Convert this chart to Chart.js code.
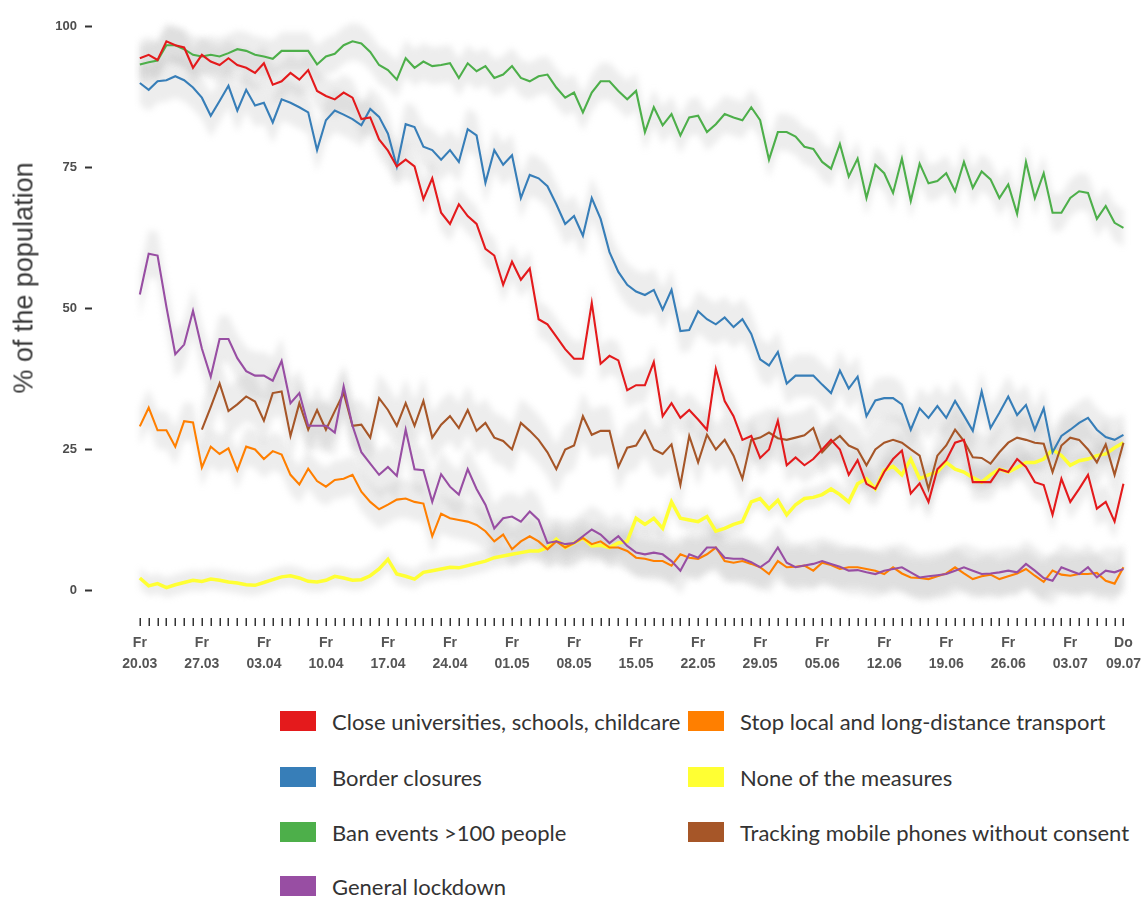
<!DOCTYPE html>
<html>
<head>
<meta charset="utf-8">
<script src="https://cdn.jsdelivr.net/npm/chart.js@4.4.1/dist/chart.umd.min.js"></script>
<style>
  html, body { margin: 0; padding: 0; background: #fff; overflow: hidden; }
  #wrap { position: relative; width: 1147px; height: 902px; }
  #c { position: absolute; left: 0; top: 0; }
  #ytitle {
    position: absolute; left: 24px; top: 278px;
    transform: translate(-50%, -50%) rotate(-90deg);
    font-family: "Liberation Sans", Arial, sans-serif; font-size: 27px;
    color: #3a3a3a; white-space: nowrap;
  }
  .lg { position: absolute; display: flex; align-items: center; height: 30px;
        font-family: Lato, "Open Sans", sans-serif; font-size: 22px; color: #333; white-space: nowrap; }
  .lg .sw { width: 36px; height: 20px; margin-right: 16px; flex: none; }
</style>
</head>
<body>
<div id="wrap">
  <canvas id="c" width="1147" height="690"></canvas>
  <div id="ytitle">% of the population</div>
  <div id="legend"></div>
</div>
<script>
// Daily survey, 20.03 – 09.07 (112 days)
const nDays = 112;

// x-axis tick labels (one every Friday, plus the last day)
const tickDays = [0, 7, 14, 21, 28, 35, 42, 49, 56, 63, 70, 77, 84, 91, 98, 105, 111];
const tickLabels = [
  ['Fr', '20.03'], ['Fr', '27.03'], ['Fr', '03.04'], ['Fr', '10.04'], ['Fr', '17.04'],
  ['Fr', '24.04'], ['Fr', '01.05'], ['Fr', '08.05'], ['Fr', '15.05'], ['Fr', '22.05'],
  ['Fr', '29.05'], ['Fr', '05.06'], ['Fr', '12.06'], ['Fr', '19.06'], ['Fr', '26.06'],
  ['Fr', '03.07'], ['Do', '09.07']
];
const yTicks = [0, 25, 50, 75, 100];

// Share of respondents supporting each measure (%)
const closeSchools = [
  94.4, 95.0, 94.1, 97.4, 96.7, 96.3, 92.7, 95.0, 93.8, 93.2, 94.4, 93.2, 92.7, 91.8, 93.5, 89.7,
  90.3, 91.8, 90.6, 92.3, 88.6, 87.7, 87.1, 88.3, 87.4, 83.6, 83.9, 80.0, 78.0, 75.2, 76.4, 75.2,
  69.4, 73.1, 67.0, 65.0, 68.5, 66.4, 65.0, 60.6, 59.4, 54.2, 58.3, 55.1, 57.1, 48.1, 47.2, 45.0,
  42.8, 41.1, 41.1, 51.0, 40.2, 41.6, 40.8, 35.5, 36.4, 36.4, 40.5, 30.9, 33.2, 30.6, 32.0, 30.3,
  28.5, 39.3, 33.6, 30.9, 26.7, 27.4, 23.5, 25.0, 30.1, 22.2, 23.6, 22.2, 23.3, 25.0, 26.7, 25.0,
  20.5, 23.1, 18.9, 18.0, 21.0, 23.3, 24.8, 17.2, 19.0, 15.7, 21.5, 23.1, 26.2, 26.7, 19.2, 19.2,
  19.2, 21.5, 21.0, 23.3, 21.9, 19.2, 18.7, 13.4, 19.8, 15.7, 18.0, 20.5, 14.5, 15.7, 12.2, 18.9
];
const borderClosures = [
  90.0, 88.8, 90.3, 90.5, 91.2, 90.5, 89.2, 87.4, 84.2, 86.8, 89.5, 85.1, 88.8, 86.0, 86.5, 83.0,
  87.1, 86.5, 85.7, 84.8, 78.1, 83.4, 85.1, 84.4, 83.6, 82.5, 85.4, 84.0, 81.0, 75.2, 82.7, 82.2,
  78.7, 78.1, 76.4, 78.1, 76.0, 81.8, 80.7, 72.3, 78.1, 75.5, 77.2, 69.6, 73.7, 73.1, 71.7, 68.5,
  65.0, 66.4, 62.9, 69.6, 65.9, 60.0, 56.5, 54.2, 53.0, 52.4, 53.3, 49.8, 53.3, 46.0, 46.2, 49.5,
  48.1, 47.2, 48.4, 46.7, 48.1, 45.5, 41.0, 39.9, 42.3, 36.7, 38.1, 38.1, 38.1, 36.5, 35.0, 39.0,
  35.8, 37.9, 30.9, 33.7, 34.1, 34.1, 33.0, 28.5, 32.3, 30.6, 32.7, 30.6, 33.6, 31.0, 28.3, 35.3,
  28.8, 31.5, 34.4, 31.1, 32.9, 28.5, 32.3, 24.5, 27.4, 28.5, 29.7, 30.6, 28.5, 27.2, 26.7, 27.6
];
const banEvents = [
  93.3, 93.7, 94.0, 96.7, 96.7, 96.0, 95.0, 94.7, 95.0, 94.7, 95.3, 96.0, 95.7, 95.0, 94.7, 94.3,
  95.7, 95.7, 95.7, 95.7, 93.3, 94.7, 95.2, 96.7, 97.4, 97.0, 95.5, 93.2, 92.3, 90.6, 94.4, 92.7,
  93.8, 93.0, 93.2, 93.5, 90.9, 93.5, 92.1, 93.0, 90.9, 91.5, 93.0, 90.9, 90.3, 91.2, 91.5, 89.2,
  87.4, 88.3, 84.8, 88.3, 90.3, 90.3, 88.6, 87.1, 88.6, 81.3, 85.7, 82.5, 84.5, 80.7, 83.9, 84.2,
  81.3, 82.7, 84.5, 83.9, 83.4, 85.7, 83.4, 76.4, 81.3, 81.3, 80.5, 78.7, 78.3, 76.0, 74.8, 79.2,
  73.4, 76.6, 69.6, 75.5, 74.0, 70.5, 76.6, 69.1, 75.7, 72.2, 72.6, 74.0, 70.8, 76.0, 71.4, 74.3,
  72.9, 69.6, 72.0, 66.8, 76.0, 69.6, 74.0, 67.0, 67.0, 69.6, 70.8, 70.5, 65.9, 68.2, 65.2, 64.3
];
const generalLockdown = [
  52.5, 59.7, 59.4, 50.3, 41.9, 43.6, 49.6, 42.9, 37.9, 44.6, 44.6, 41.2, 38.9, 38.1, 38.1, 37.2,
  40.7, 33.2, 35.0, 29.2, 29.2, 29.2, 28.0, 36.2, 29.2, 24.5, 22.5, 20.5, 21.9, 20.3, 28.5, 21.5,
  21.3, 15.7, 20.6, 18.4, 17.0, 21.5, 18.0, 15.2, 11.0, 12.8, 13.1, 12.2, 14.0, 12.5, 8.4, 8.7,
  8.2, 8.4, 9.6, 10.8, 9.9, 8.4, 9.6, 7.9, 6.7, 6.4, 6.7, 6.4, 5.2, 3.5, 6.4, 5.8,
  7.6, 7.6, 5.8, 5.6, 5.6, 5.0, 4.1, 5.2, 7.6, 4.9, 4.1, 4.4, 4.7, 5.2, 4.7, 4.2,
  3.5, 3.6, 3.2, 2.9, 3.5, 3.8, 4.1, 3.2, 2.3, 2.5, 2.7, 2.9, 3.5, 4.1, 3.5, 2.9,
  3.0, 3.2, 3.5, 3.2, 4.7, 3.5, 2.2, 1.7, 4.1, 3.5, 2.9, 4.1, 2.3, 3.5, 3.2, 3.8
];
const stopTransport = [
  29.1, 32.4, 28.4, 28.4, 25.5, 30.0, 29.8, 21.8, 25.5, 24.2, 25.2, 21.3, 25.5, 25.0, 23.3, 24.7,
  24.1, 20.5, 18.8, 21.6, 19.4, 18.4, 19.6, 19.8, 20.5, 17.5, 15.7, 14.4, 15.2, 16.1, 16.3, 15.7,
  15.4, 9.6, 13.6, 12.8, 12.5, 12.2, 11.6, 10.5, 8.7, 9.9, 7.3, 8.7, 9.6, 8.7, 7.3, 8.7,
  7.6, 8.4, 9.3, 8.2, 8.7, 7.6, 7.6, 7.0, 5.8, 5.6, 5.2, 5.2, 4.4, 6.4, 5.8, 5.6,
  6.4, 7.6, 5.2, 4.9, 5.2, 4.7, 4.1, 2.9, 5.2, 4.1, 4.2, 4.4, 3.5, 4.9, 4.5, 3.8,
  4.1, 4.1, 3.8, 3.5, 2.9, 4.1, 3.0, 2.3, 2.2, 2.0, 2.5, 3.0, 4.1, 3.0, 2.0, 2.5,
  2.8, 2.0, 2.5, 3.0, 3.8, 2.6, 1.5, 3.5, 2.8, 2.6, 2.9, 2.9, 3.1, 1.7, 1.2, 4.1
];
const noneOfThese = [
  2.2, 0.8, 1.2, 0.5, 1.0, 1.4, 1.8, 1.6, 2.0, 1.8, 1.5, 1.3, 1.0, 0.9, 1.4, 1.9,
  2.4, 2.6, 2.2, 1.6, 1.5, 1.8, 2.5, 2.2, 1.8, 1.9, 2.6, 3.8, 5.5, 2.9, 2.5, 2.0,
  3.2, 3.5, 3.8, 4.1, 4.0, 4.4, 4.8, 5.2, 5.8, 6.1, 6.4, 6.7, 7.0, 7.0, 7.6, 9.1,
  7.6, 8.4, 9.3, 7.9, 8.0, 7.6, 8.4, 8.7, 12.8, 11.7, 12.8, 11.0, 15.7, 12.8, 12.5, 12.2,
  13.1, 10.5, 11.0, 11.7, 12.2, 15.7, 16.3, 14.5, 16.0, 13.4, 15.2, 16.3, 16.5, 17.0, 18.0, 17.0,
  15.7, 18.9, 19.8, 18.0, 21.3, 22.0, 20.5, 23.3, 19.8, 20.5, 21.0, 22.7, 21.5, 21.0, 20.0, 19.2,
  20.5, 21.5, 21.0, 21.8, 22.7, 22.7, 23.3, 25.0, 23.9, 22.2, 23.0, 23.3, 23.9, 24.2, 25.3, 26.2
];
const trackingPhones = [
  null, null, null, null, null, null, null, 28.5, 32.5, 36.7, 31.8, 33.0, 34.4, 33.5, 30.1, 35.0,
  35.3, 27.4, 33.2, 28.5, 32.0, 28.5, 31.8, 35.0, 29.2, 29.4, 27.1, 34.1, 32.0, 29.2, 33.2, 29.2,
  33.6, 27.1, 29.4, 30.9, 28.8, 32.0, 28.3, 29.7, 27.1, 26.5, 25.0, 29.7, 28.3, 26.7, 24.5, 21.5,
  25.0, 25.7, 30.9, 27.6, 28.3, 28.3, 21.9, 25.3, 25.7, 28.3, 25.0, 24.2, 25.9, 18.7, 27.4, 22.7,
  27.6, 25.0, 26.7, 23.9, 19.8, 26.7, 27.1, 28.0, 27.0, 26.7, 27.1, 27.5, 28.8, 24.5, 26.2, 27.4,
  25.7, 25.0, 22.2, 25.0, 26.2, 26.7, 26.2, 25.0, 23.9, 18.0, 23.9, 25.7, 28.5, 26.5, 23.6, 23.5,
  22.5, 24.5, 26.2, 27.1, 26.7, 26.2, 26.0, 21.0, 25.7, 27.1, 26.7, 25.0, 22.7, 25.9, 20.5, 26.2
];

// Series: label, values, colour, confidence-band half width
const series = [
  { label: 'Close universities, schools, childcare', values: closeSchools,    color: '#e41a1c', band: 3.2 },
  { label: 'Border closures',                        values: borderClosures,  color: '#377eb8', band: 3.8 },
  { label: 'Ban events >100 people',                 values: banEvents,       color: '#4daf4a', band: 3.3 },
  { label: 'General lockdown',                       values: generalLockdown, color: '#984ea3', band: 4.2 },
  { label: 'Stop local and long-distance transport', values: stopTransport,   color: '#ff7f00', band: 3.4 },
  { label: 'None of the measures',                   values: noneOfThese,     color: '#ffff33', band: 1.8 },
  { label: 'Tracking mobile phones without consent', values: trackingPhones,  color: '#a65628', band: 4.4 }
];

// Soft grey confidence ribbons drawn under the lines
const ribbons = {
  id: 'ribbons',
  beforeDatasetsDraw(chart) {
    const { ctx, chartArea, scales: { x, y } } = chart;
    ctx.save();
    ctx.beginPath();
    ctx.rect(chartArea.left, chartArea.top, chartArea.width, chartArea.height);
    ctx.clip();
    ctx.filter = 'blur(3px)';
    ctx.fillStyle = 'rgba(175,175,175,0.22)';
    series.forEach(s => {
      const pts = [];
      s.values.forEach((v, i) => { if (v !== null) pts.push([i, v]); });
      ctx.beginPath();
      pts.forEach(([i, v], k) => {
        const px = x.getPixelForValue(i), py = y.getPixelForValue(v + s.band);
        if (k === 0) ctx.moveTo(px, py); else ctx.lineTo(px, py);
      });
      for (let k = pts.length - 1; k >= 0; k--) {
        const [i, v] = pts[k];
        ctx.lineTo(x.getPixelForValue(i), y.getPixelForValue(v - s.band));
      }
      ctx.closePath();
      ctx.fill();
    });
    ctx.restore();
  }
};

// One short tick mark under the panel for every survey day
const dayTicks = {
  id: 'dayTicks',
  afterDraw(chart) {
    const { ctx, chartArea, scales: { x } } = chart;
    ctx.save();
    ctx.strokeStyle = '#333';
    ctx.lineWidth = 1.5;
    ctx.beginPath();
    for (let i = 0; i < nDays; i++) {
      const px = Math.round(x.getPixelForValue(i)) + 0.25;
      ctx.moveTo(px, chartArea.bottom + 1);
      ctx.lineTo(px, chartArea.bottom + 9);
    }
    ctx.stroke();
    ctx.restore();
  }
};

const pxLeft = 92, dayZero = 140, dayLast = 1127, plotRight = 1145;
const pxPerDay = (dayLast - dayZero) / (nDays - 1);
const xMin = -(dayZero - pxLeft) / pxPerDay;
const xMax = (nDays - 1) + (plotRight - dayLast) / pxPerDay;
const pxPerUnit = (590 - 18) / 100;
const yMax = 100 + (18 - 7) / pxPerUnit;
const yMin = -(617 - 590) / pxPerUnit;

new Chart(document.getElementById('c'), {
  type: 'line',
  data: {
    datasets: series.map((s, k) => ({
      label: s.label,
      data: s.values.map((v, i) => ({ x: i, y: v })),
      borderColor: s.color,
      borderWidth: s.color === '#ffff33' ? 3.5 : 2.1,
      pointRadius: 0,
      tension: 0,
      spanGaps: false,
      order: s.color === '#ffff33' ? 10 : k
    }))
  },
  options: {
    responsive: false,
    devicePixelRatio: 1,
    animation: false,
    layout: { padding: { left: 0, right: 1147 - plotRight, top: 7, bottom: 0 } },
    plugins: { legend: { display: false }, tooltip: { enabled: false } },
    scales: {
      x: {
        type: 'linear', min: xMin, max: xMax,
        afterBuildTicks: s => { s.ticks = tickDays.map(v => ({ value: v })); },
        afterFit: s => { s.height = 73; },
        border: { display: false },
        grid: { display: false, drawOnChartArea: false, tickLength: 9 },
        ticks: {
          autoSkip: false, maxRotation: 0, minRotation: 0, padding: 6,
          color: '#555',
          font: { family: '"Liberation Sans", Arial, sans-serif', size: 14, weight: 'bold', lineHeight: 1.55 },
          callback: v => { const k = tickDays.indexOf(v); return k >= 0 ? tickLabels[k] : ''; }
        }
      },
      y: {
        min: yMin, max: yMax,
        afterBuildTicks: s => { s.ticks = yTicks.map(v => ({ value: v })); },
        afterFit: s => { s.width = pxLeft; },
        border: { display: false },
        grid: { drawOnChartArea: false, drawTicks: true, tickLength: 7, tickColor: '#333', tickWidth: 2 },
        ticks: {
          padding: 8, color: '#4d4d4d',
          font: { family: '"Liberation Sans", Arial, sans-serif', size: 13, weight: 'bold' }
        }
      }
    }
  },
  plugins: [ribbons, dayTicks]
});

// Legend in two columns below the chart
const legendPos = [
  [280, 721], [280, 777], [280, 832], [280, 886],
  [688, 721], [688, 777], [688, 832]
];
const lg = document.getElementById('legend');
series.forEach((s, k) => {
  const el = document.createElement('div');
  el.className = 'lg';
  el.style.left = legendPos[k][0] + 'px';
  el.style.top = (legendPos[k][1] - 15) + 'px';
  const sw = document.createElement('span');
  sw.className = 'sw';
  sw.style.background = s.color;
  const tx = document.createElement('span');
  tx.textContent = s.label;
  el.appendChild(sw);
  el.appendChild(tx);
  lg.appendChild(el);
});
</script>
</body>
</html>
